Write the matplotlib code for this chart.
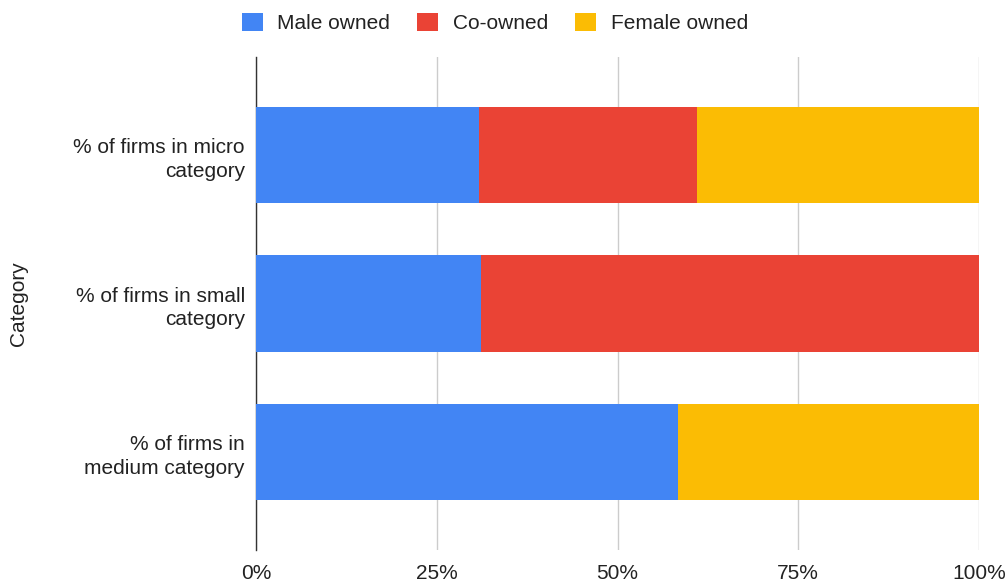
import matplotlib
matplotlib.use("Agg")
import matplotlib.pyplot as plt
from matplotlib.ticker import FuncFormatter

categories = ["% of firms in micro\ncategory", "% of firms in small\ncategory", "% of firms in\nmedium category"]
series_names = ["Male owned", "Co-owned", "Female owned"]
male = [30.9, 31.1, 58.3]
co = [30.1, 68.9, 0.0]
female = [39.0, 0.0, 41.7]
colors = ["#4285F4", "#EA4335", "#FBBC04"]
xticks = [0, 25, 50, 75, 100]

plt.rcParams['font.family'] = ['Liberation Sans', 'DejaVu Sans']
FS = 15
TXT = "#222222"

fig = plt.figure(figsize=(10.08, 5.84), dpi=100)
ax = fig.add_axes([256/1008, 1-550/584, (979-256)/1008, (550-57)/584])

y = list(range(len(categories)))
left = [0.0]*len(categories)
for name, vals, c in zip(series_names, [male, co, female], colors):
    ax.barh(y, vals, left=left, height=0.65, color=c, label=name, zorder=3)
    left = [l+v for l, v in zip(left, vals)]

ax.set_ylim(2.66, -0.66)
ax.set_xlim(0, 100)
ax.set_yticks(y)
ax.set_yticklabels(categories, fontsize=FS, color=TXT, ha="right", linespacing=1.32)
ax.set_xticks(xticks)
ax.xaxis.set_major_formatter(FuncFormatter(lambda v, p: f"{int(v)}%"))
ax.tick_params(axis='x', labelsize=FS, colors=TXT, length=0, pad=10)
ax.tick_params(axis='y', length=0, pad=8)
ax.grid(axis='x', color="#cccccc", linewidth=1, zorder=0)
for s in ["top", "right", "bottom"]:
    ax.spines[s].set_visible(False)
ax.spines["left"].set_color("#333333")
ax.spines["left"].set_linewidth(1)
ax.set_ylabel("Category", fontsize=FS, color=TXT)
ax.yaxis.set_label_coords(-228/723, 0.5)

leg = fig.legend(loc="center", bbox_to_anchor=(0.491, 1-23/584), ncol=3, frameon=False,
                 fontsize=FS, handlelength=1.0, handleheight=1.0, columnspacing=1.3,
                 handletextpad=0.7, borderpad=0)
for t in leg.get_texts():
    t.set_color(TXT)

fig.savefig("out.png", dpi=100)
